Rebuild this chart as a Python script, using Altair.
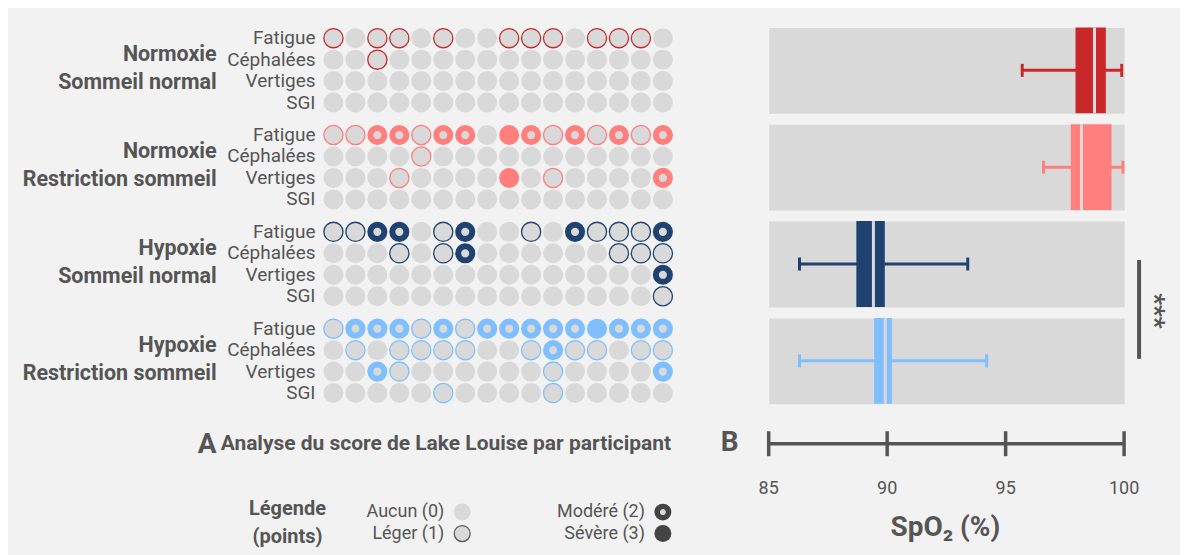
import altair as alt
import pandas as pd

# ---------------- data ----------------
participants = list(range(1, 17))
symptoms = ["Fatigue", "Céphalées", "Vertiges", "SGI"]
condition_line1 = ["Normoxie", "Normoxie", "Hypoxie", "Hypoxie"]
condition_line2 = ["Sommeil normal", "Restriction sommeil", "Sommeil normal", "Restriction sommeil"]
group_colors = ["#c8282a", "#ff7f7f", "#1f4270", "#7fbfff"]

# Lake Louise scores (0 aucun, 1 léger, 2 modéré, 3 sévère), one value per participant
nn_fatigue   = [1, 0, 1, 1, 0, 1, 0, 0, 1, 1, 1, 0, 1, 1, 1, 0]
nn_cephalees = [0, 0, 1, 0, 0, 0, 0, 0, 0, 0, 0, 0, 0, 0, 0, 0]
nn_vertiges  = [0, 0, 0, 0, 0, 0, 0, 0, 0, 0, 0, 0, 0, 0, 0, 0]
nn_sgi       = [0, 0, 0, 0, 0, 0, 0, 0, 0, 0, 0, 0, 0, 0, 0, 0]

nr_fatigue   = [1, 1, 2, 2, 1, 2, 2, 0, 3, 2, 1, 2, 1, 2, 1, 2]
nr_cephalees = [0, 0, 0, 0, 1, 0, 0, 0, 0, 0, 0, 0, 0, 0, 0, 0]
nr_vertiges  = [0, 0, 0, 1, 0, 0, 0, 0, 3, 0, 1, 0, 0, 0, 0, 2]
nr_sgi       = [0, 0, 0, 0, 0, 0, 0, 0, 0, 0, 0, 0, 0, 0, 0, 0]

hn_fatigue   = [1, 1, 2, 2, 0, 1, 2, 0, 0, 1, 0, 2, 1, 1, 1, 2]
hn_cephalees = [0, 0, 0, 1, 0, 1, 2, 0, 0, 0, 0, 0, 0, 1, 1, 1]
hn_vertiges  = [0, 0, 0, 0, 0, 0, 0, 0, 0, 0, 0, 0, 0, 0, 0, 2]
hn_sgi       = [0, 0, 0, 0, 0, 0, 0, 0, 0, 0, 0, 0, 0, 0, 0, 1]

hr_fatigue   = [1, 2, 2, 2, 1, 2, 1, 2, 2, 2, 2, 2, 3, 2, 2, 2]
hr_cephalees = [0, 1, 0, 1, 1, 1, 1, 0, 0, 1, 2, 1, 1, 0, 1, 1]
hr_vertiges  = [0, 0, 2, 1, 0, 0, 0, 0, 0, 0, 1, 0, 0, 0, 0, 2]
hr_sgi       = [0, 0, 0, 0, 0, 1, 0, 0, 0, 0, 1, 0, 0, 0, 0, 0]

group_scores = [
    [nn_fatigue, nn_cephalees, nn_vertiges, nn_sgi],
    [nr_fatigue, nr_cephalees, nr_vertiges, nr_sgi],
    [hn_fatigue, hn_cephalees, hn_vertiges, hn_sgi],
    [hr_fatigue, hr_cephalees, hr_vertiges, hr_sgi],
]

# SpO2 box statistics per condition
spo2_min    = [95.7, 96.6, 86.3, 86.3]
spo2_q1     = [97.95, 97.75, 88.7, 89.45]
spo2_median = [98.75, 98.2, 89.42, 89.92]
spo2_q3     = [99.23, 99.47, 89.9, 90.2]
spo2_max    = [99.9, 99.95, 93.4, 94.2]

tick_values = [85, 90, 95, 100]
legend_levels = [0, 1, 2, 3]
legend_labels = ["Aucun (0)", "Léger (1)", "Modéré (2)", "Sévère (3)"]

# ---------------- style ----------------
FONT = "Roboto"
TXT = "#555555"
GRAY = "#d9d9d9"
BG = "#f2f2f2"
DARK = "#444444"


def one_text(text, x, y, size, bold=False, align="left", angle=0, color=TXT):
    kw = dict(font=FONT, fontSize=size, color=color, align=align, baseline="middle")
    if bold:
        kw["fontWeight"] = "bold"
    if angle:
        kw["angle"] = angle
    return alt.Chart(pd.DataFrame({"t": [text]})).mark_text(**kw).encode(
        x=alt.value(x), y=alt.value(y), text="t:N"
    )


def dots_chart(g):
    rows = []
    for s, vals in zip(symptoms, group_scores[g]):
        for p, v in zip(participants, vals):
            rows.append({"participant": p, "symptom": s, "level": v})
    df = pd.DataFrame(rows)
    color = group_colors[g]
    xenc = alt.X("participant:Q",
                 scale=alt.Scale(domain=[0.5, 16.5], range=[314, 666], nice=False, zero=False),
                 axis=None)
    yenc = alt.Y("symptom:N", scale=alt.Scale(domain=symptoms), sort=symptoms, axis=None)
    base = alt.Chart(df).encode(x=xenc, y=yenc)
    l0 = base.transform_filter("datum.level == 0").mark_circle(size=400, color=GRAY, opacity=1)
    l1 = base.transform_filter("datum.level == 1").mark_point(
        shape="circle", filled=True, fill=GRAY, stroke=color, strokeWidth=1.3, size=370, opacity=1)
    l2 = base.transform_filter("datum.level == 2").mark_point(
        shape="circle", filled=True, fill=GRAY, stroke=color, strokeWidth=6, size=200, opacity=1)
    l3 = base.transform_filter("datum.level == 3").mark_circle(size=400, color=color, opacity=1)
    labels = alt.Chart(pd.DataFrame({"symptom": symptoms})).mark_text(
        font=FONT, fontSize=19, color=TXT, align="right", baseline="middle"
    ).encode(x=alt.value(307), y=yenc, text="symptom:N")
    g1 = one_text(condition_line1[g], 208, 28, 21.5, bold=True, align="right")
    g2 = one_text(condition_line2[g], 208, 56, 21.5, bold=True, align="right")
    return alt.layer(l0, l1, l2, l3, labels, g1, g2).properties(width=666, height=86)


def box_chart(g):
    df = pd.DataFrame({"lo": [spo2_min[g]], "q1": [spo2_q1[g]], "med": [spo2_median[g]],
                       "q3": [spo2_q3[g]], "hi": [spo2_max[g]]})
    color = group_colors[g]
    sc = alt.Scale(domain=[85, 100], nice=False, zero=False)
    base = alt.Chart(df)
    whisk = base.mark_rule(color=color, strokeWidth=3).encode(
        x=alt.X("lo:Q", scale=sc, axis=None), x2="hi:Q", y=alt.value(43))
    cap_lo = base.mark_tick(color=color, thickness=3, size=13, opacity=1).encode(
        x=alt.X("lo:Q", scale=sc, axis=None), y=alt.value(43))
    cap_hi = base.mark_tick(color=color, thickness=3, size=13, opacity=1).encode(
        x=alt.X("hi:Q", scale=sc, axis=None), y=alt.value(43))
    box = base.mark_rect(color=color, opacity=1).encode(
        x=alt.X("q1:Q", scale=sc, axis=None), x2="q3:Q")
    med = base.mark_rule(color=GRAY, strokeWidth=3).encode(
        x=alt.X("med:Q", scale=sc, axis=None))
    layers = [whisk, cap_lo, cap_hi, box, med]
    if g == 2:
        sig = alt.Chart(pd.DataFrame({"k": [0]})).mark_rule(color=TXT, strokeWidth=4).encode(
            x=alt.value(371), y=alt.value(39), y2=alt.value(138))
        stars = one_text("***", 386, 90, 26, bold=True, align="center", angle=90)
        layers += [sig, stars]
    return alt.layer(*layers).properties(
        width=356, height=86, view=alt.ViewBackground(fill=GRAY, stroke="transparent"))


def bottom_left():
    leg = pd.DataFrame({"level": legend_levels, "label": legend_labels})
    lb = alt.Chart(leg).transform_calculate(
        col="floor(datum.level / 2)", row="datum.level % 2"
    ).encode(
        x=alt.X("col:Q", scale=alt.Scale(domain=[0, 1], range=[454, 655], nice=False, zero=False), axis=None),
        y=alt.Y("row:Q", scale=alt.Scale(domain=[0, 1], range=[97.5, 119], nice=False, zero=False), axis=None),
    )
    d0 = lb.transform_filter("datum.level == 0").mark_circle(size=289, color=GRAY, opacity=1)
    d1 = lb.transform_filter("datum.level == 1").mark_point(
        shape="circle", filled=True, fill=GRAY, stroke=TXT, strokeWidth=1.2, size=256, opacity=1)
    d2 = lb.transform_filter("datum.level == 2").mark_point(
        shape="circle", filled=True, fill=GRAY, stroke=DARK, strokeWidth=5.5, size=132, opacity=1)
    d3 = lb.transform_filter("datum.level == 3").mark_circle(size=289, color=DARK, opacity=1)
    labs = lb.mark_text(font=FONT, fontSize=18, color=TXT, align="right", baseline="middle", dx=-18).encode(
        text="label:N")
    a = one_text("A", 189, 30, 28, bold=True)
    title = one_text("Analyse du score de Lake Louise par participant", 212, 29, 21, bold=True)
    l1 = one_text("Légende", 279, 94, 20, bold=True, align="center")
    l2 = one_text("(points)", 279, 122, 20, bold=True, align="center")
    return alt.layer(d0, d1, d2, d3, labs, a, title, l1, l2).properties(width=666, height=134)


def bottom_right():
    ticks = pd.DataFrame({"v": tick_values})
    sc = alt.Scale(domain=[85, 100], nice=False, zero=False)
    base = alt.Chart(ticks)
    line = base.mark_rule(color=TXT, strokeWidth=3.5).encode(
        x=alt.X("min(v):Q", scale=sc, axis=None), x2=alt.X2("v", aggregate="max"), y=alt.value(29))
    tk = base.mark_tick(color=TXT, thickness=3.5, size=25, opacity=1).encode(
        x=alt.X("v:Q", scale=sc, axis=None), y=alt.value(29))
    lab = base.mark_text(font=FONT, fontSize=18, color=TXT, baseline="middle").encode(
        x=alt.X("v:Q", scale=sc, axis=None), y=alt.value(74), text="v:Q")
    ttl = one_text("SpO₂ (%)", 177, 113, 28, bold=True, align="center")
    b = one_text("B", -48, 28, 28, bold=True)
    return alt.layer(line, tk, lab, ttl, b).properties(width=356, height=134)


cells = []
for g in range(4):
    cells += [dots_chart(g), box_chart(g)]
cells += [bottom_left(), bottom_right()]

chart = alt.concat(
    *cells, columns=2, spacing={"row": 11, "column": 95}, bounds="flush"
).resolve_scale(
    x="independent", y="independent"
).properties(
    background=BG,
    padding={"left": 0, "top": 17, "right": 12, "bottom": 8},
).configure_view(stroke="transparent")

chart.save("out.html", embed_options={"renderer": "svg", "actions": False})
